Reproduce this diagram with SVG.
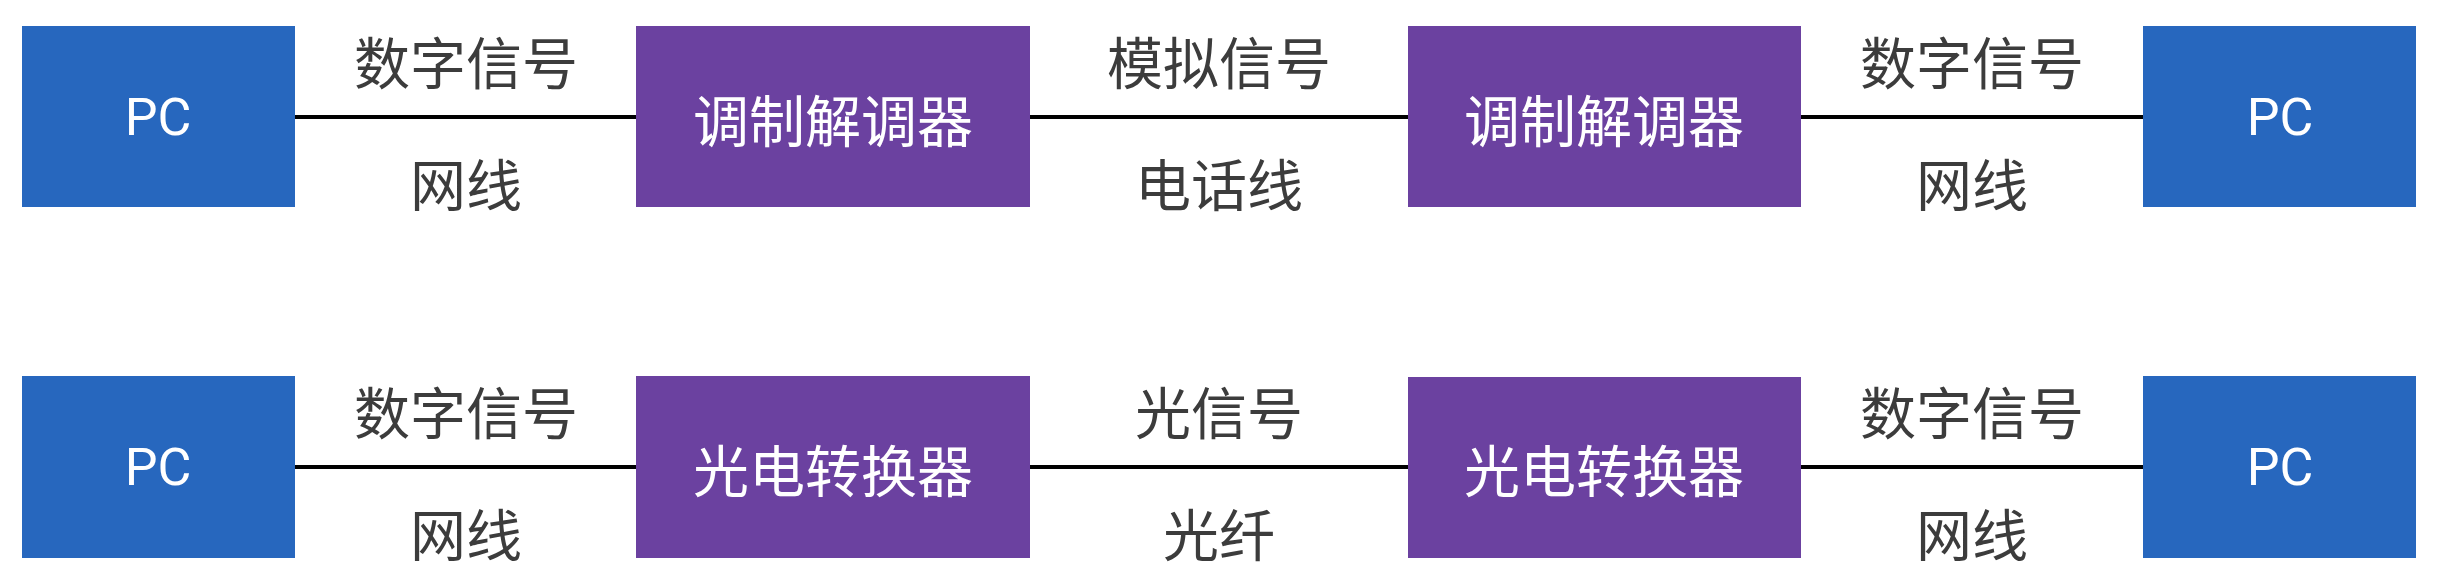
<svg xmlns="http://www.w3.org/2000/svg" width="2458" height="570" viewBox="0 0 2458 570">
<style>
.pc{fill:#2767be}
.dev{fill:#6b41a0}
.lbl{font-family:"Noto Sans CJK SC","Noto Sans",sans-serif;font-size:56px;fill:#3c3c3c;text-anchor:middle;dominant-baseline:central}
.bt{font-family:"Noto Sans CJK SC","Noto Sans",sans-serif;font-size:56px;fill:#ffffff;text-anchor:middle;dominant-baseline:central}
.pct{font-family:Roboto,"Liberation Sans",sans-serif;font-size:52px;fill:#ffffff;text-anchor:middle;dominant-baseline:central}
.wire{stroke:#000;stroke-width:4;fill:none}
</style>
<rect width="2458" height="570" fill="#ffffff"/>
<g id="connectors">
<line class="wire" x1="295" y1="117" x2="636" y2="117"/>
<line class="wire" x1="1030" y1="117" x2="1408" y2="117"/>
<line class="wire" x1="1801" y1="117" x2="2143" y2="117"/>
<line class="wire" x1="295" y1="467" x2="636" y2="467"/>
<line class="wire" x1="1030" y1="467" x2="1408" y2="467"/>
<line class="wire" x1="1801" y1="467" x2="2143" y2="467"/>
<text class="lbl" x="466" y="59">数字信号</text>
<text class="lbl" x="466" y="181">网线</text>
<text class="lbl" x="1219" y="59">模拟信号</text>
<text class="lbl" x="1219" y="181">电话线</text>
<text class="lbl" x="1972" y="59">数字信号</text>
<text class="lbl" x="1972" y="181">网线</text>
<text class="lbl" x="466" y="409">数字信号</text>
<text class="lbl" x="466" y="531">网线</text>
<text class="lbl" x="1219" y="409">光信号</text>
<text class="lbl" x="1219" y="531">光纤</text>
<text class="lbl" x="1972" y="409">数字信号</text>
<text class="lbl" x="1972" y="531">网线</text>
</g>
<g id="pc1"><rect class="pc" x="22" y="26" width="273" height="181"/><text class="pct" x="158" y="117">PC</text></g>
<g id="modem1"><rect class="dev" x="636" y="26" width="394" height="181"/><text class="bt" x="833" y="117">调制解调器</text></g>
<g id="modem2"><rect class="dev" x="1408" y="26" width="393" height="181"/><text class="bt" x="1604" y="117">调制解调器</text></g>
<g id="pc2"><rect class="pc" x="2143" y="26" width="273" height="181"/><text class="pct" x="2280" y="117">PC</text></g>
<g id="pc3"><rect class="pc" x="22" y="376" width="273" height="182"/><text class="pct" x="158" y="467">PC</text></g>
<g id="conv1"><rect class="dev" x="636" y="376" width="394" height="182"/><text class="bt" x="833" y="467">光电转换器</text></g>
<g id="conv2"><rect class="dev" x="1408" y="377" width="393" height="181"/><text class="bt" x="1604" y="467">光电转换器</text></g>
<g id="pc4"><rect class="pc" x="2143" y="376" width="273" height="182"/><text class="pct" x="2280" y="467">PC</text></g>
</svg>
